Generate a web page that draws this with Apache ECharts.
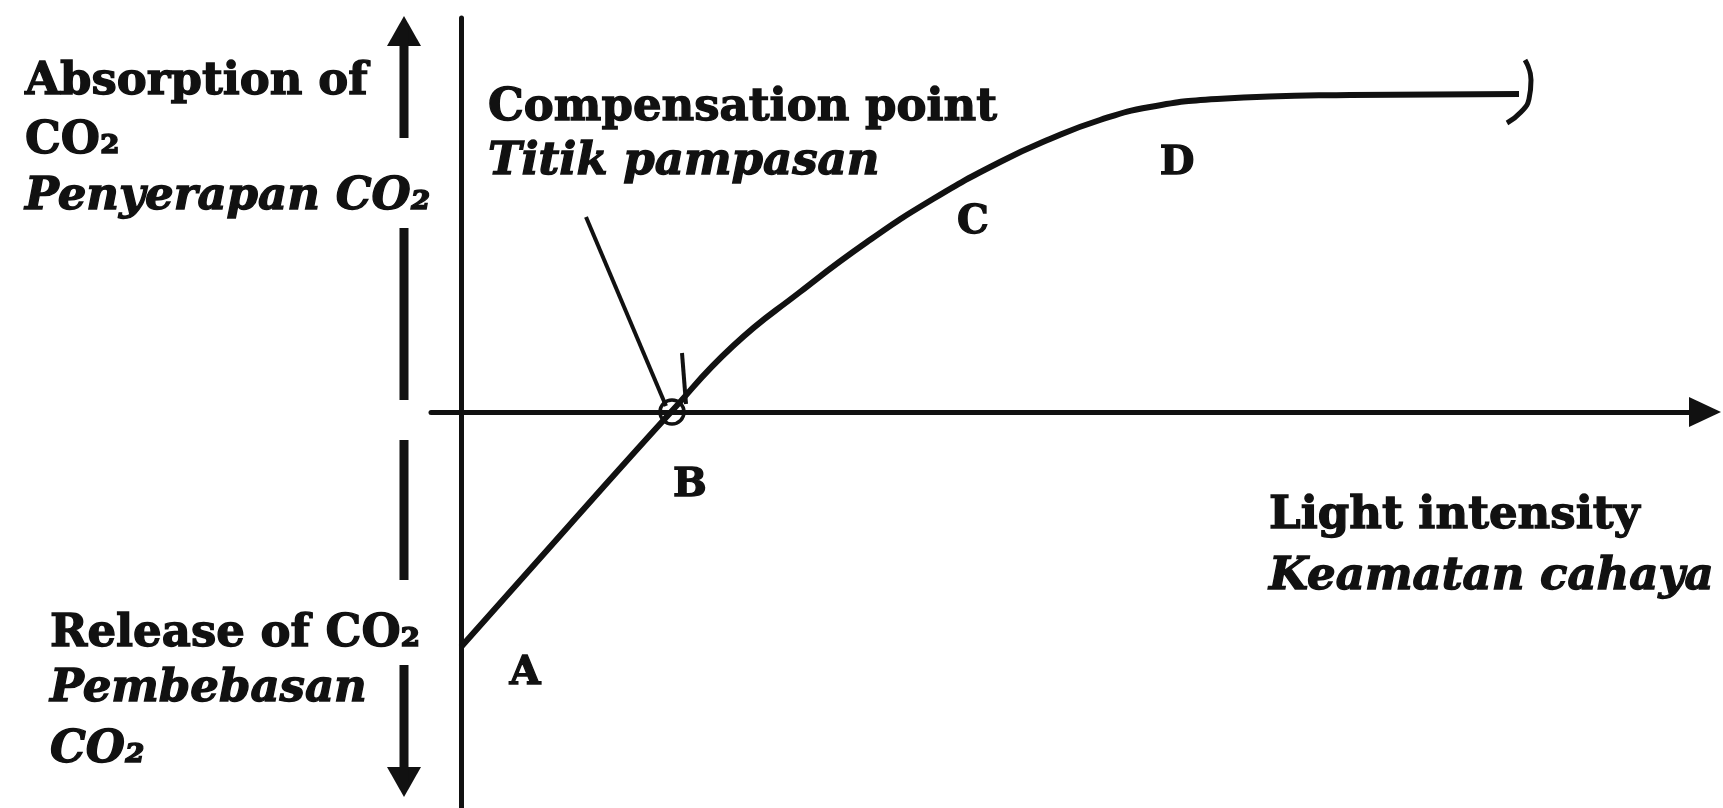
<!DOCTYPE html>
<html><head><meta charset="utf-8">
<script src="https://cdn.jsdelivr.net/npm/echarts@6/dist/echarts.min.js"></script>
<style>html,body{margin:0;padding:0;background:#fff}#c{width:1723px;height:808px}</style>
</head><body><div id="c"></div>
<script>
// Net CO2 exchange vs light intensity (arbitrary units)
const curveX = [0, 10.5, 21, 27.2, 33.9, 40.6, 47.2, 53.9, 58.9, 63.9, 68.9, 75.6, 88.9, 105.8];
const curveY = [-23.5, -11.7, 0, 6.6, 12.0, 17.0, 21.3, 25.0, 27.3, 29.2, 30.5, 31.3, 31.7, 31.8];
// closing bracket at the end of the plateau
const hookX = [106.4, 107.0, 106.8, 106.0, 104.6];
const hookY = [35.2, 33.2, 31.3, 30.0, 28.9];
// pointer from the label to the compensation point
const pointerX = [12.5, 20.5];
const pointerY = [19.5, 0.6];
const tickX = [22.1, 22.5];
const tickY = [5.9, 0.8];
const compensationPoint = [21.1, 0];
// side arrow (absorption up / release down), on the same vertical scale
const sideSegs = [[38.5, 27.4], [18.4, 1.2], [-2.8, -16.8], [-25.3, -37.0]];
const arrowHeadY = [38.1, -37.0];

const INK = '#111';
const FONT = '"DejaVu Serif", serif';

function pairs(xs, ys) { return xs.map((x, i) => [x, ys[i]]); }

function txt(t, x, y, opt) {
  opt = opt || {};
  return {
    type: 'text', x: x, y: y, silent: true,
    style: {
      text: t,
      font: (opt.italic ? 'italic ' : '') + 'bold ' + (opt.size || 45) + 'px ' + FONT,
      fill: INK, stroke: INK, lineWidth: 1.3,
      align: opt.align || 'left',
      verticalAlign: 'middle'
    }
  };
}

const hiddenAxis = {axisLine: {show: false}, axisTick: {show: false}, axisLabel: {show: false}, splitLine: {show: false}};

const sideSeries = sideSegs.map(s => ({
  type: 'line', xAxisIndex: 1, yAxisIndex: 1,
  data: [[0, s[0]], [0, s[1]]],
  showSymbol: false, symbol: 'none', clip: false,
  lineStyle: {color: INK, width: 9, cap: 'butt'}
}));

const chart = echarts.init(document.getElementById('c'), null, {renderer: 'canvas'});
chart.setOption({
  backgroundColor: '#fff',
  animation: false,
  grid: [
    {left: 431, right: 18, top: 18, bottom: 0, containLabel: false},
    {left: 384, width: 40, top: 18, bottom: 0, containLabel: false}
  ],
  xAxis: [
    {
      type: 'value', min: -3, max: 124.4, gridIndex: 0,
      axisLine: {onZero: true, symbol: ['none', 'triangle'], symbolSize: [30, 32],
        lineStyle: {color: INK, width: 5}},
      axisTick: {show: false}, axisLabel: {show: false}, splitLine: {show: false}
    },
    Object.assign({type: 'value', min: -1, max: 1, gridIndex: 1}, hiddenAxis)
  ],
  yAxis: [
    {
      type: 'value', min: -39.6, max: 39.4, gridIndex: 0,
      axisLine: {onZero: true, lineStyle: {color: INK, width: 5}},
      axisTick: {show: false}, axisLabel: {show: false}, splitLine: {show: false}
    },
    Object.assign({type: 'value', min: -39.6, max: 39.4, gridIndex: 1}, hiddenAxis)
  ],
  series: [
    {type: 'line', data: pairs(curveX, curveY), smooth: 0.5,
      showSymbol: false, symbol: 'none', lineStyle: {color: INK, width: 6}, clip: false, z: 5},
    {type: 'line', data: pairs(hookX, hookY), smooth: 0.5,
      showSymbol: false, symbol: 'none', lineStyle: {color: INK, width: 5}, clip: false},
    {type: 'line', data: pairs(pointerX, pointerY),
      showSymbol: false, symbol: 'none', lineStyle: {color: INK, width: 4}, clip: false},
    {type: 'line', data: pairs(tickX, tickY),
      showSymbol: false, symbol: 'none', lineStyle: {color: INK, width: 4}, clip: false},
    {type: 'scatter', data: [compensationPoint], symbol: 'circle', symbolSize: 24,
      itemStyle: {color: 'rgba(255,255,255,0)', borderColor: INK, borderWidth: 3.5, opacity: 1}, z: 6},
    ...sideSeries,
    {type: 'scatter', xAxisIndex: 1, yAxisIndex: 1, clip: false, symbol: 'triangle', symbolSize: [34, 30],
      data: [
        {value: [0, arrowHeadY[0]], symbolRotate: 0},
        {value: [0, arrowHeadY[1]], symbolRotate: 180}
      ],
      itemStyle: {color: INK, opacity: 1}}
  ],
  graphic: [
    txt('Absorption of', 25, 82),
    txt('CO₂', 25, 141),
    txt('Penyerapan CO₂', 25, 197, {italic: true}),
    txt('Release of CO₂', 50, 634),
    txt('Pembebasan', 50, 689, {italic: true}),
    txt('CO₂', 50, 750, {italic: true}),
    txt('Compensation point', 488, 108),
    txt('Titik pampasan', 488, 162, {italic: true}),
    txt('Light intensity', 1269, 516),
    txt('Keamatan cahaya', 1269, 577, {italic: true}),
    txt('A', 525, 674, {size: 40, align: 'center'}),
    txt('B', 690, 486, {size: 40, align: 'center'}),
    txt('C', 973, 223, {size: 40, align: 'center'}),
    txt('D', 1177, 164, {size: 40, align: 'center'})
  ]
});
</script></body></html>
